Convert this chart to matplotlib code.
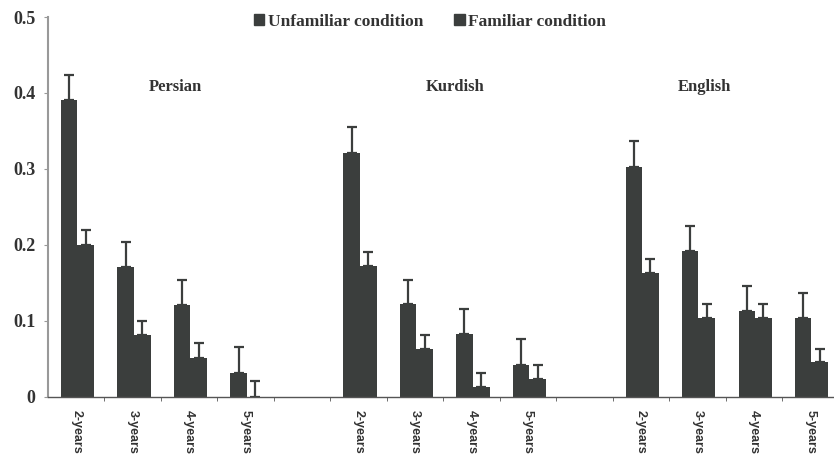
import matplotlib
matplotlib.use("Agg")
import matplotlib.pyplot as plt
from matplotlib.patches import Patch
import numpy as np

languages = ["Persian", "Kurdish", "English"]
ages = ["2-years", "3-years", "4-years", "5-years"]

unfamiliar = {
    "Persian": [0.390, 0.170, 0.120, 0.031],
    "Kurdish": [0.321, 0.122, 0.082, 0.042],
    "English": [0.303, 0.192, 0.113, 0.103],
}
unfamiliar_err = {
    "Persian": [0.034, 0.034, 0.033, 0.034],
    "Kurdish": [0.034, 0.032, 0.033, 0.034],
    "English": [0.033, 0.033, 0.033, 0.034],
}
familiar = {
    "Persian": [0.200, 0.081, 0.051, 0.000],
    "Kurdish": [0.172, 0.063, 0.013, 0.023],
    "English": [0.163, 0.104, 0.104, 0.045],
}
familiar_err = {
    "Persian": [0.020, 0.019, 0.019, 0.021],
    "Kurdish": [0.018, 0.018, 0.018, 0.018],
    "English": [0.018, 0.018, 0.018, 0.018],
}
group_start = {"Persian": 0, "Kurdish": 5, "English": 10}
label_pos = {"Persian": (1.75, 0.408), "Kurdish": (6.71, 0.408), "English": (11.12, 0.408)}
yticks = [0, 0.1, 0.2, 0.3, 0.4, 0.5]
ytick_labels = ["0", "0.1", "0.2", "0.3", "0.4", "0.5"]

bar_color = "#3b3e3d"
serif = ["Liberation Serif", "DejaVu Serif"]

fig = plt.figure(figsize=(8.34, 4.66), dpi=100)
ax = fig.add_axes([48 / 834, 69.5 / 466, 786 / 834, 379.5 / 466])

positions, labels = [], []
for lang in languages:
    s = group_start[lang]
    x = np.arange(s, s + 4)
    ax.bar(x - 0.27, unfamiliar[lang], width=0.29, align="edge", color=bar_color,
           yerr=[np.zeros(4), unfamiliar_err[lang]], error_kw=dict(ecolor=bar_color, capsize=3.5, elinewidth=1.6, capthick=1.6))
    ax.bar(x + 0.02, familiar[lang], width=0.30, align="edge", color=bar_color,
           yerr=[np.zeros(4), familiar_err[lang]], error_kw=dict(ecolor=bar_color, capsize=3.5, elinewidth=1.6, capthick=1.6))
    positions.extend(list(x))
    labels.extend(ages)
    lx, ly = label_pos[lang]
    ax.text(lx, ly, lang, ha="center", va="center", fontsize=12, fontweight="bold",
            family=serif, color="#333333")

ax.set_xlim(-0.5, 13.42)
ax.set_ylim(0, 0.5)
ax.set_xticks(positions)
ax.set_xticklabels(labels, rotation=270, fontsize=9, fontweight="bold",
                   family=["Liberation Sans", "DejaVu Sans"], color="#333333")
ax.tick_params(axis="x", length=0, pad=10)
ax.set_xticks(np.arange(0.5, 13.5, 1.0), minor=True)
ax.tick_params(axis="x", which="minor", length=3, color="#555555")
ax.set_yticks(yticks)
ax.set_yticklabels(ytick_labels, fontsize=13, fontweight="bold", family=serif, color="#333333")
ax.tick_params(axis="y", length=3, color="#999999", pad=6)

for sp in ["top", "right"]:
    ax.spines[sp].set_visible(False)
ax.spines["left"].set_color("#999999")
ax.spines["left"].set_linewidth(1.5)
ax.spines["bottom"].set_color("#555555")
ax.spines["bottom"].set_linewidth(1.0)

handles = [Patch(color=bar_color, label="Unfamiliar condition"),
           Patch(color=bar_color, label="Familiar condition")]
fig.legend(handles=handles, loc="center", bbox_to_anchor=(430 / 834, 1 - 22 / 466), ncol=2,
           frameon=False, prop=dict(family=serif, weight="bold", size=12.5),
           handlelength=0.6, handleheight=0.6, handletextpad=0.2, columnspacing=1.8,
           labelcolor="#333333")

fig.savefig("out.png", dpi=100)
